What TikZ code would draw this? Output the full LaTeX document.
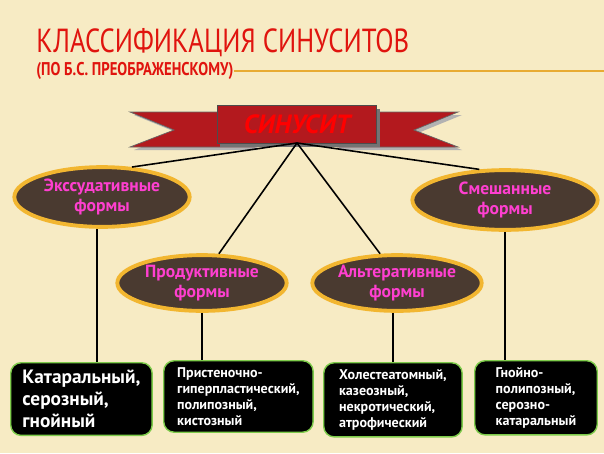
\documentclass[tikz,border=0pt]{standalone}
\usepackage{fontspec}
\setmainfont{PT Sans}
\usetikzlibrary{shapes.geometric}
\definecolor{bg}{HTML}{F7EBC4}
\definecolor{ttl}{HTML}{E0140E}
\definecolor{ribbon}{HTML}{B3191E}
\definecolor{ellfill}{HTML}{4A3A30}
\definecolor{ellbord}{HTML}{F2B630}
\definecolor{mag}{HTML}{FF3FD0}
\definecolor{boxb}{HTML}{7DCB4A}
\begin{document}
\begin{tikzpicture}[x=0.02cm,y=-0.02cm,
  ell/.style={ellipse,draw=ellbord,line width=2.2pt,fill=ellfill,text=mag,font=\bfseries\fontsize{10}{11}\selectfont,align=center,inner sep=0pt},
  leaf/.style={draw=boxb,line width=0.8pt,fill=black,rounded corners=6pt,text=white,align=left,anchor=north west,inner sep=4pt},
  link/.style={black,line width=0.9pt}]
\fill[bg] (0,0) rectangle (604,453);
\useasboundingbox (0,0) rectangle (604,453);
\node[anchor=west,text=ttl,font=\fontsize{19}{20}\selectfont,inner sep=0pt] (t1) at (36,43) {\scalebox{0.8}[1]{КЛАССИФИКАЦИЯ СИНУСИТОВ}};
\node[anchor=west,text=ttl,font=\fontsize{10.5}{11}\selectfont\bfseries,inner sep=0pt] (t2) at (36,71) {\scalebox{0.8}[1]{(ПО Б.С. ПРЕОБРАЖЕНСКОМУ)}};
\coordinate (lr) at (604,71);
\draw[ellbord!80!brown,line width=0.8pt] (t2.east) -- (lr);
% ribbon
\fill[gray!60] (134,115)--(257,115)--(257,150)--(134,150)--(178,133)--cycle;
\fill[gray!60] (462,115)--(339,115)--(339,150)--(462,150)--(418,133)--cycle;
\fill[ribbon,draw=black!60] (130,112)--(255,112)--(255,147)--(130,147)--(174,130)--cycle;
\fill[ribbon,draw=black!60] (458,112)--(337,112)--(337,147)--(458,147)--(414,130)--cycle;
\fill[black!55] (220,109) rectangle (380,147);
\node[draw=black!70,fill=ribbon,minimum width=160*0.567pt,minimum height=38*0.567pt,text=red,font=\bfseries\itshape\fontsize{15}{16}\selectfont,inner sep=0pt] (main) at (297,124) {СИНУСИТ};
\node[ell,minimum width=176*0.567pt,minimum height=60*0.567pt] (e1) at (102,197) {Экссудативные\\формы};
\node[ell,minimum width=186*0.567pt,minimum height=60*0.567pt] (e4) at (505,200) {Смешанные\\формы};
\node[ell,minimum width=170*0.567pt,minimum height=56*0.567pt] (e2) at (202,283) {Продуктивные\\формы};
\node[ell,minimum width=170*0.567pt,minimum height=56*0.567pt] (e3) at (397,283) {Альтеративные\\формы};
\coordinate (mb) at (297,143);
\draw[link] (mb) -- (e1.45);
\draw[link] (mb) -- (e4.130);
\draw[link] (mb) -- (e2.60);
\draw[link] (mb) -- (e3.120);
\node[leaf,minimum width=142*0.567pt,minimum height=73*0.567pt,font=\bfseries\fontsize{11}{12.5}\selectfont] (b1) at (10,362) {Катаральный,\\серозный,\\гнойный};
\node[leaf,minimum width=150*0.567pt,minimum height=70*0.567pt,font=\bfseries\fontsize{8}{9}\selectfont] (b2) at (163,360) {Пристеночно-\\гиперпластический,\\полипозный,\\кистозный};
\node[leaf,minimum width=139*0.567pt,minimum height=70*0.567pt,font=\bfseries\fontsize{8}{9}\selectfont] (b3) at (323,362) {Холестеатомный,\\казеозный,\\некротический,\\атрофический};
\node[leaf,minimum width=123*0.567pt,minimum height=70*0.567pt,font=\bfseries\fontsize{8}{9}\selectfont] (b4) at (474,360) {Гнойно-\\полипозный,\\серозно-\\катаральный};
\draw[link] (e1.south -| 97,0) -- (b1.north -| 97,0);
\draw[link] (e2.south) -- (b2.north -| e2.south);
\draw[link] (e3.south -| 393,0) -- (b3.north -| 393,0);
\draw[link] (e4.south) -- (b4.north -| e4.south);
\end{tikzpicture}
\end{document}
